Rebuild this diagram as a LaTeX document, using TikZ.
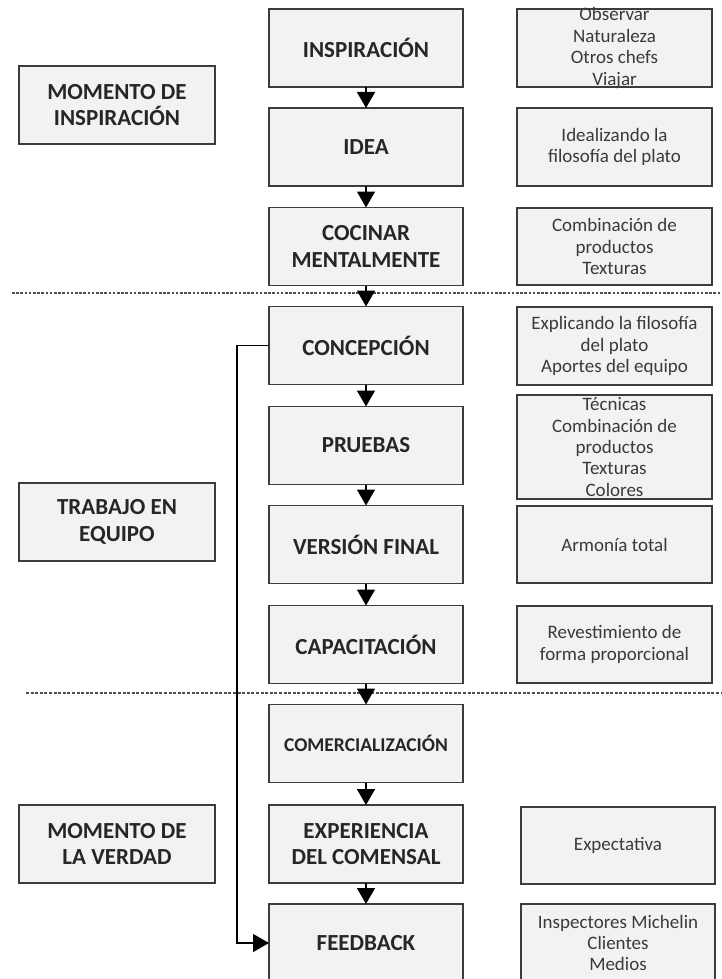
\documentclass[tikz,border=0pt]{standalone}
\usepackage{fontspec}
\setmainfont{Carlito}
\usetikzlibrary{arrows.meta}
\definecolor{boxfill}{HTML}{F2F2F2}
\definecolor{boxline}{HTML}{3C3C3C}
\definecolor{txt}{HTML}{262626}
\definecolor{rtxt}{HTML}{3A3A3A}
\definecolor{dotc}{HTML}{505050}
\begin{document}
\begin{tikzpicture}[x=1pt,y=-1pt,
  box/.style={draw=boxline, line width=1.8pt, fill=boxfill, inner sep=0pt, outer sep=0pt, rectangle},
  mainbox/.style={box, minimum width=194pt, minimum height=78pt, font=\fontsize{23}{26.7}\selectfont\bfseries, text=txt, align=center},
  leftbox/.style={box, minimum width=196pt, minimum height=78pt, font=\fontsize{23}{26.7}\selectfont\bfseries, text=txt, align=center},
  rbox/.style={box, minimum width=195pt},
  rtext/.style={inner sep=0pt, font=\fontsize{19}{21.4}\selectfont, text=rtxt, align=center},
  arr/.style={draw=black, line width=1.5pt, -{Triangle[width=18pt,length=16pt]}},
  dotline/.style={draw=dotc, line width=2pt, dash pattern=on 2.5pt off 1.7pt},
  dashline/.style={draw=dotc, line width=2pt, dash pattern=on 3pt off 1.6pt}
]
\useasboundingbox (0,0) rectangle (721,979);

% separators
\coordinate (d1a) at (12,293);
\coordinate (d1b) at (721,293);
\coordinate (d2a) at (26,693);
\coordinate (d2b) at (721,693);
\draw[dotline] (d1a) -- (d1b);
\draw[dashline] (d2a) -- (d2b);

% left boxes
\node[leftbox] (l1) at (117,105) {MOMENTO DE\\INSPIRACIÓN};
\node[leftbox] (l2) at (117,522) {TRABAJO EN\\EQUIPO};
\node[leftbox] (l3) at (117,844) {MOMENTO DE\\LA VERDAD};

% main column
\node[mainbox] (insp) at (366,48) {INSPIRACIÓN};
\node[mainbox] (idea) at (366,147) {IDEA};
\node[mainbox] (coc) at (366,246.5) {COCINAR\\MENTALMENTE};
\node[mainbox] (conc) at (366,345.5) {CONCEPCIÓN};
\node[mainbox] (prue) at (366,445.5) {PRUEBAS};
\node[mainbox] (vers) at (366,544.5) {VERSIÓN FINAL};
\node[mainbox] (capa) at (366,644.5) {CAPACITACIÓN};
\node[mainbox, font=\fontsize{19.5}{23}\selectfont\bfseries] (come) at (366,743.5) {COMERCIALIZACIÓN};
\node[mainbox] (expe) at (366,844) {EXPERIENCIA\\DEL COMENSAL};
\node[mainbox] (feed) at (366,943) {FEEDBACK};

% right boxes
\node[rbox, minimum height=78pt] (r1) at (614.5,48) {};
\node[rtext] (r1t) at (r1) {Observar\\Naturaleza\\Otros chefs\\Viajar};
\node[rbox, minimum height=78pt] (r2) at (614.5,147) {};
\node[rtext] (r2t) at (r2) {Idealizando la\\filosofía del plato};
\node[rbox, minimum height=77pt] (r3) at (614.5,246.5) {};
\node[rtext] (r3t) at (r3) {Combinación de\\productos\\Texturas};
\node[rbox, minimum height=78pt] (r4) at (614.5,346) {};
\node[rtext] (r4t) at (r4) {Explicando la filosofía\\del plato\\Aportes del equipo};
\node[rbox, minimum height=104pt] (r5) at (614.5,447) {};
\node[rtext] (r5t) at (r5) {Técnicas\\Combinación de\\productos\\Texturas\\Colores};
\node[rbox, minimum height=77pt] (r6) at (614.5,544.5) {};
\node[rtext] (r6t) at (r6) {Armonía total};
\node[rbox, minimum height=77pt] (r7) at (614.5,644.5) {};
\node[rtext] (r7t) at (r7) {Revestimiento de\\forma proporcional};
\node[rbox, minimum width=194pt, minimum height=77pt] (r9) at (618,845.5) {};
\node[rtext] (r9t) at (r9) {Expectativa};
\node[rbox, minimum width=194pt, minimum height=78pt] (r10) at (618,943) {};
\node[rtext] (r10t) at (r10) {Inspectores Michelin\\Clientes\\Medios};

% arrows
\draw[arr] (insp) -- (idea);
\draw[arr] (idea) -- (coc);
\draw[arr] (coc) -- (conc);
\draw[arr] (conc) -- (prue);
\draw[arr] (prue) -- (vers);
\draw[arr] (vers) -- (capa);
\draw[arr] (capa) -- (come);
\draw[arr] (come) -- (expe);
\draw[arr] (expe) -- (feed);
\coordinate (fb) at (237,345.5);
\draw[arr] (conc.west) -- (fb) |- (feed.west);
\end{tikzpicture}
\end{document}
